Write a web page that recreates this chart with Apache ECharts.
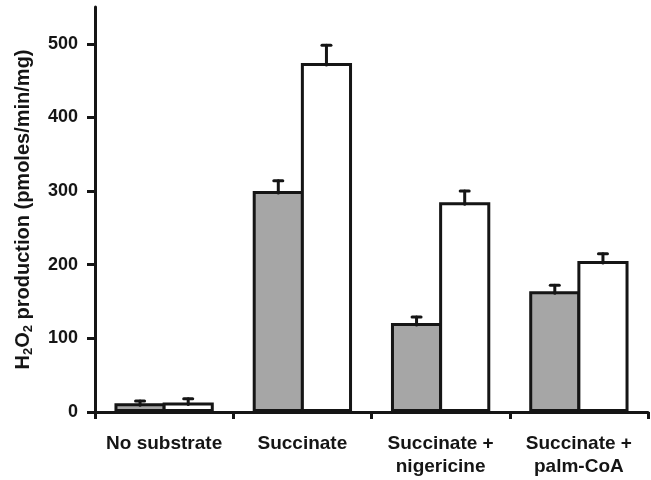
<!DOCTYPE html>
<html>
<head>
<meta charset="utf-8">
<script src="https://cdn.jsdelivr.net/npm/echarts@6/dist/echarts.min.js"></script>
<style>html,body{margin:0;padding:0;background:#fff}#c{width:651px;height:480px}</style>
</head>
<body>
<div id="c"></div>
<script>
var categories = ['No substrate', 'Succinate', 'Succinate +\nnigericine', 'Succinate +\npalm-CoA'];
var grayValues = [12, 300, 121, 164];
var grayErrors = [3, 14, 8, 8];
var whiteValues = [13, 474, 285, 205];
var whiteErrors = [5, 24, 15, 10];
var yTicks = [0, 100, 200, 300, 400, 500];

var FONT = '"Liberation Sans", Arial, Helvetica, sans-serif';
var INK = '#151515';
var BAR_PCT = 0.37;
var BORDER = 3;

function errSeries(vals, errs, side) {
  return {
    type: 'custom',
    z: 5,
    data: vals.map(function (v, i) { return [i, v, v + errs[i]]; }),
    renderItem: function (params, api) {
      var band = api.size([1, 0])[0];
      var w = band * BAR_PCT;
      var off = side * (w - BORDER) / 2;
      var p0 = api.coord([api.value(0), api.value(1)]);
      var p1 = api.coord([api.value(0), api.value(2)]);
      var x = p0[0] + off;
      var style = { stroke: INK, lineWidth: 3, lineCap: 'round' };
      return {
        type: 'group',
        children: [
          { type: 'line', shape: { x1: x, y1: p0[1] + 2, x2: x, y2: p1[1] }, style: style },
          { type: 'line', shape: { x1: x - 4.5, y1: p1[1], x2: x + 4.5, y2: p1[1] }, style: style }
        ]
      };
    }
  };
}

var chart = echarts.init(document.getElementById('c'), null, { renderer: 'canvas' });
var gapPct = (-BORDER / (BAR_PCT * 138.5) * 100).toFixed(2) + '%';
chart.setOption({
  animation: false,
  backgroundColor: '#fff',
  grid: { left: 95, right: 3, top: 7, bottom: 68, containLabel: false },
  xAxis: {
    type: 'category',
    data: categories,
    axisLine: { lineStyle: { color: INK, width: 3 } },
    axisTick: { show: true, length: 7, lineStyle: { color: INK, width: 3 } },
    axisLabel: { interval: 0, margin: 20, color: INK, fontSize: 19, fontWeight: 'bold', fontFamily: FONT, lineHeight: 23 }
  },
  yAxis: {
    type: 'value',
    min: 0, max: 550, interval: 100,
    splitLine: { show: false },
    axisLine: { show: true, lineStyle: { color: INK, width: 3 } },
    axisTick: { show: true, length: 8, customValues: yTicks, lineStyle: { color: INK, width: 3 } },
    axisLabel: { customValues: yTicks, margin: 17, color: INK, fontSize: 18, fontWeight: 'bold', fontFamily: FONT },
    name: '{t|H}{s|2}{t|O}{s|2}{t| production (pmoles/min/mg)}',
    nameLocation: 'middle',
    nameGap: 60,
    nameTextStyle: {
      color: INK, fontSize: 20, fontWeight: 'bold', fontFamily: FONT,
      rich: {
        t: { color: INK, fontSize: 20, fontWeight: 'bold', fontFamily: FONT },
        s: { color: INK, fontSize: 13, fontWeight: 'bold', fontFamily: FONT, padding: [10, 0, 0, 0] }
      }
    }
  },
  series: [
    {
      type: 'bar', data: grayValues, barWidth: (BAR_PCT * 100) + '%', barGap: gapPct,
      itemStyle: { color: '#a6a6a6', borderColor: INK, borderWidth: BORDER }
    },
    {
      type: 'bar', data: whiteValues, barWidth: (BAR_PCT * 100) + '%', barGap: gapPct,
      itemStyle: { color: '#ffffff', borderColor: INK, borderWidth: BORDER }
    },
    errSeries(grayValues, grayErrors, -1),
    errSeries(whiteValues, whiteErrors, 1)
  ]
});
</script>
</body>
</html>
